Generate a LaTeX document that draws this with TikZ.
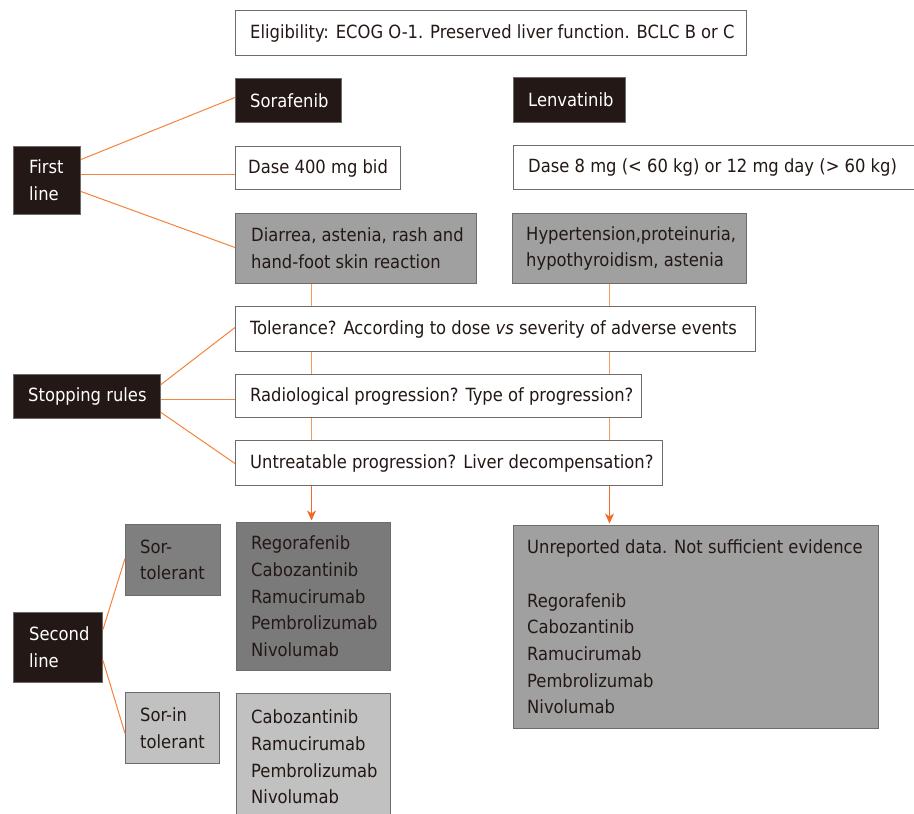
\documentclass[tikz,border=0pt]{standalone}
\usepackage{fontspec}
\setmainfont{DejaVu Sans Condensed}
\usetikzlibrary{arrows.meta,calc}
\definecolor{darkfill}{HTML}{231815}
\definecolor{bordergray}{HTML}{6E6B6B}
\definecolor{midgray}{HTML}{A0A0A0}
\definecolor{deepgray}{HTML}{7A7A7A}
\definecolor{tolgray}{HTML}{7F7F7F}
\definecolor{lightgray}{HTML}{C0C1C0}
\definecolor{conncol}{HTML}{F5843E}
\definecolor{vconncol}{HTML}{F7995C}
\definecolor{arrcol}{HTML}{F26B24}
\definecolor{txtcol}{HTML}{231815}
\begin{document}
\begin{tikzpicture}[x=1pt,y=-1pt,
  boxbase/.style={draw=bordergray, line width=1pt, anchor=north west, inner sep=0pt},
  whitebox/.style={boxbase, fill=white},
  darkbox/.style={boxbase, fill=darkfill},
  txt/.style={inner sep=0pt, align=left, anchor=west, text=txtcol,
    font=\fontsize{18.2}{26.7}\selectfont},
  wtxt/.style={txt, text=white},
  conn/.style={draw=conncol, line width=1pt},
  vconn/.style={draw=vconncol, line width=1.2pt},
  arr/.style={draw=arrcol, line width=1pt, -{Stealth[length=10pt,width=9pt,inset=3pt]}, shorten >=1.5pt}
]
\useasboundingbox (0,0) rectangle (914,814);
\fill[white] (0,0) rectangle (914,814);

% boxes
\node[whitebox, minimum width=511pt, minimum height=45pt] (elig) at (235,10) {};
\node[txt] (elig-t) at ([xshift=15pt]elig.west) {Eligibility: ECOG O-1. Preserved liver function. BCLC B or C};

\node[darkbox, minimum width=106pt, minimum height=44pt] (sora) at (235,78) {};
\node[wtxt] (sora-t) at ([xshift=15pt]sora.west) {Sorafenib};

\node[darkbox, minimum width=112pt, minimum height=45pt] (lenva) at (513,77) {};
\node[wtxt] (lenva-t) at ([xshift=15pt]lenva.west) {Lenvatinib};

\node[darkbox, minimum width=67pt, minimum height=68pt] (first) at (13,146) {};
\node[wtxt] (first-t) at ([xshift=16pt]first.west) {First\\line};

\node[whitebox, minimum width=165pt, minimum height=43pt] (dase1) at (235,146) {};
\node[txt] (dase1-t) at ([xshift=13pt]dase1.west) {Dase 400 mg bid};

\node[whitebox, minimum width=405pt, minimum height=44pt] (dase2) at (513,145) {};
\node[txt] (dase2-t) at ([xshift=15pt]dase2.west) {Dase 8 mg (< 60 kg) or 12 mg day (> 60 kg)};

\node[boxbase, fill=midgray, minimum width=241pt, minimum height=70pt] (diar) at (235,213) {};
\node[txt] (diar-t) at ([xshift=16pt]diar.west) {Diarrea, astenia, rash and\\hand-foot skin reaction};

\node[boxbase, fill=midgray, minimum width=234pt, minimum height=70pt] (hyper) at (512,213) {};
\node[txt] (hyper-t) at ([xshift=14pt]hyper.west) {Hypertension,proteinuria,\\hypothyroidism, astenia};

\node[whitebox, minimum width=520pt, minimum height=45pt] (tol) at (235,306) {};
\node[txt] (tol-t) at ([xshift=15pt]tol.west) {Tolerance? According to dose \textit{vs} severity of adverse events};

\node[darkbox, minimum width=147pt, minimum height=44pt] (stop) at (13,374) {};
\node[wtxt] (stop-t) at ([xshift=15pt]stop.west) {Stopping rules};

\node[whitebox, minimum width=406pt, minimum height=43pt] (radio) at (235,374) {};
\node[txt] (radio-t) at ([xshift=15pt]radio.west) {Radiological progression? Type of progression?};

\node[whitebox, minimum width=427pt, minimum height=45pt] (untr) at (235,440) {};
\node[txt] (untr-t) at ([xshift=15pt]untr.west) {Untreatable progression? Liver decompensation?};

\node[boxbase, fill=tolgray, minimum width=95pt, minimum height=71pt] (sortol) at (125,524) {};
\node[txt] (sortol-t) at ([xshift=15pt]sortol.west) {Sor-\\tolerant};

\node[boxbase, fill=deepgray, minimum width=154pt, minimum height=148pt] (rego) at (236,522) {};
\node[txt] (rego-t) at ([xshift=15pt]rego.west) {Regorafenib\\Cabozantinib\\Ramucirumab\\Pembrolizumab\\Nivolumab};

\node[darkbox, minimum width=89pt, minimum height=70pt] (second) at (13,612) {};
\node[wtxt] (second-t) at ([xshift=16pt]second.west) {Second\\line};

\node[boxbase, fill=midgray, minimum width=365pt, minimum height=203pt] (unrep) at (513,525) {};
\node[txt] (unrep-t) at ([xshift=14pt]unrep.west) {Unreported data. Not sufficient evidence\\[26.7pt]Regorafenib\\Cabozantinib\\Ramucirumab\\Pembrolizumab\\Nivolumab};

\node[boxbase, fill=lightgray, minimum width=94pt, minimum height=71pt] (sorin) at (125,692) {};
\node[txt] (sorin-t) at ([xshift=15pt]sorin.west) {Sor-in\\tolerant};

\node[boxbase, fill=lightgray, minimum width=154pt, minimum height=135pt] (cabo) at (236,693) {};
\node[txt] (cabo-t) at (251,757) {Cabozantinib\\Ramucirumab\\Pembrolizumab\\Nivolumab};

% connectors from left labels
\draw[conn] ([yshift=21pt]first.east) -- ([yshift=3pt]sora.west);
\draw[conn] ([yshift=6.5pt]first.east) -- ([yshift=-6pt]dase1.west);
\draw[conn] ([yshift=-11pt]first.east) -- ([yshift=1pt]diar.west);

\draw[conn] ([yshift=12pt]stop.east) -- ([yshift=1.5pt]tol.west);
\draw[conn] ([yshift=-2.5pt]stop.east) -- ([yshift=-3pt]radio.west);
\draw[conn] ([yshift=-16pt]stop.east) -- ([yshift=-0.5pt]untr.west);

\draw[conn] ([yshift=18pt]second.east) -- ([yshift=1.5pt]sortol.west);
\draw[conn] ([yshift=-13pt]second.east) -- ([yshift=-5.5pt]sorin.west);

% vertical flow lines
\coordinate (cl) at (311.5,0);
\coordinate (cr) at (609.5,0);
\draw[vconn] (diar.south -| cl) -- (tol.north -| cl);
\draw[vconn] (tol.south -| cl) -- (radio.north -| cl);
\draw[vconn] (radio.south -| cl) -- (untr.north -| cl);
\draw[arr] (untr.south -| cl) -- (rego.north -| cl);

\draw[vconn] (hyper.south -| cr) -- (tol.north -| cr);
\draw[vconn] (tol.south -| cr) -- (radio.north -| cr);
\draw[vconn] (radio.south -| cr) -- (untr.north -| cr);
\draw[arr] (untr.south -| cr) -- (unrep.north -| cr);
\end{tikzpicture}
\end{document}
